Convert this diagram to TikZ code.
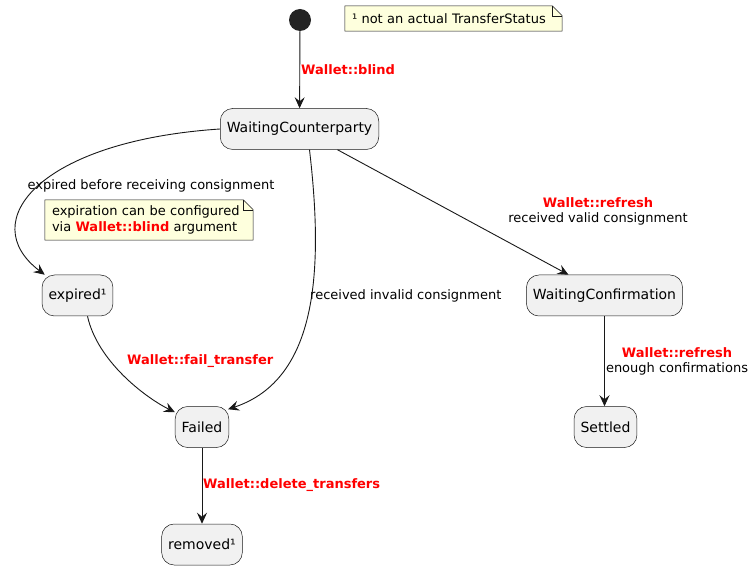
\documentclass[tikz,border=0pt]{standalone}
\usepackage{fontspec}
\setmainfont{DejaVu Sans}
\usetikzlibrary{arrows.meta,calc,backgrounds}
\definecolor{nodefill}{HTML}{F1F1F1}
\definecolor{lineclr}{HTML}{181818}
\definecolor{notefill}{HTML}{FEFFDD}
\definecolor{kwred}{HTML}{FF0000}
\newcommand{\kw}[1]{\textbf{\textcolor{kwred}{#1}}}
\tikzset{
  statebox/.style={draw=lineclr, line width=0.5pt, fill=nodefill, rounded corners=12.5pt,
    minimum height=41pt, inner xsep=6.5pt, font=\fontsize{14}{16}\selectfont},
  notetext/.style={inner xsep=7pt, inner ysep=4pt, align=left, font=\fontsize{13}{15.5}\selectfont},
  noteframe/.style={draw=lineclr, line width=0.5pt, fill=notefill},
  trans/.style={draw=lineclr, line width=0.9pt, -{Stealth[length=11pt,width=10pt,inset=4pt]}},
  lbl/.style={inner sep=0pt, font=\fontsize{13}{15}\selectfont, align=center},
}
\begin{document}
\begin{tikzpicture}[x=1pt,y=-1pt]
\useasboundingbox (0,0) rectangle (755,569);
% start
\node[circle, fill=lineclr!95, minimum size=22pt, inner sep=0pt] (start) at (300,20) {};
% states
\node[statebox] (wc) at (299.5,129) {WaitingCounterparty};
\node[statebox] (exp) at (77.5,295.5) {expired¹};
\node[statebox] (wconf) at (604.5,295.5) {WaitingConfirmation};
\node[statebox] (failed) at (202,427) {Failed};
\node[statebox] (settled) at (605.5,427) {Settled};
\node[statebox] (removed) at (202,544.5) {removed¹};
% notes
\node[notetext, text width=203pt, minimum height=25pt] (n1) at (453.5,18.5) {¹ not an actual TransferStatus};
\node[notetext, text width=194pt, minimum height=40pt] (n2) at (149,220) {expiration can be configured\\via \kw{Wallet::blind} argument};
\begin{scope}[on background layer]
\foreach \n in {n1,n2}{
  \draw[noteframe] (\n.north west) -- ([xshift=-10pt]\n.north east) -- ([yshift=-10pt]\n.north east) -- (\n.south east) -- (\n.south west) -- cycle;
  \draw[draw=lineclr, line width=0.5pt] ([xshift=-10pt]\n.north east) |- ([yshift=-10pt]\n.north east);
}
\end{scope}
% transitions
\draw[trans] (start) -- (wc);
\draw[trans] (wc.west) .. controls +(-181,12) and +(-70,-53) .. ([xshift=3pt]exp.north west);
\draw[trans] ([xshift=10pt]wc.south) .. controls +(14,120) and +(90,-30) .. ([xshift=-1pt,yshift=-3pt]failed.north east);
\draw[trans] ([xshift=38pt]wc.south) -- ([xshift=-36pt]wconf.north);
\draw[trans] (wconf.south) -- (wconf.south |- settled.north);
\draw[trans] ([xshift=10pt]exp.south) .. controls +(10,45) and +(-30,-15) .. ([yshift=-6pt]failed.north west);
\draw[trans] (failed) -- (removed);
% labels
\node[lbl, anchor=west] (l1) at (301,70) {\kw{Wallet::blind}};
\node[lbl] (l2) at (151,186) {expired before receiving consignment};
\node[lbl, anchor=west] (l3) at (310,296) {received invalid consignment};
\node[lbl] (l4) at (598,211) {\kw{Wallet::refresh}\\received valid consignment};
\node[lbl] (l5) at (677,361) {\kw{Wallet::refresh}\\enough confirmations};
\node[lbl, anchor=west] (l6) at (127,361) {\kw{Wallet::fail\_transfer}};
\node[lbl, anchor=west] (l7) at (203,485) {\kw{Wallet::delete\_transfers}};
\end{tikzpicture}
\end{document}
